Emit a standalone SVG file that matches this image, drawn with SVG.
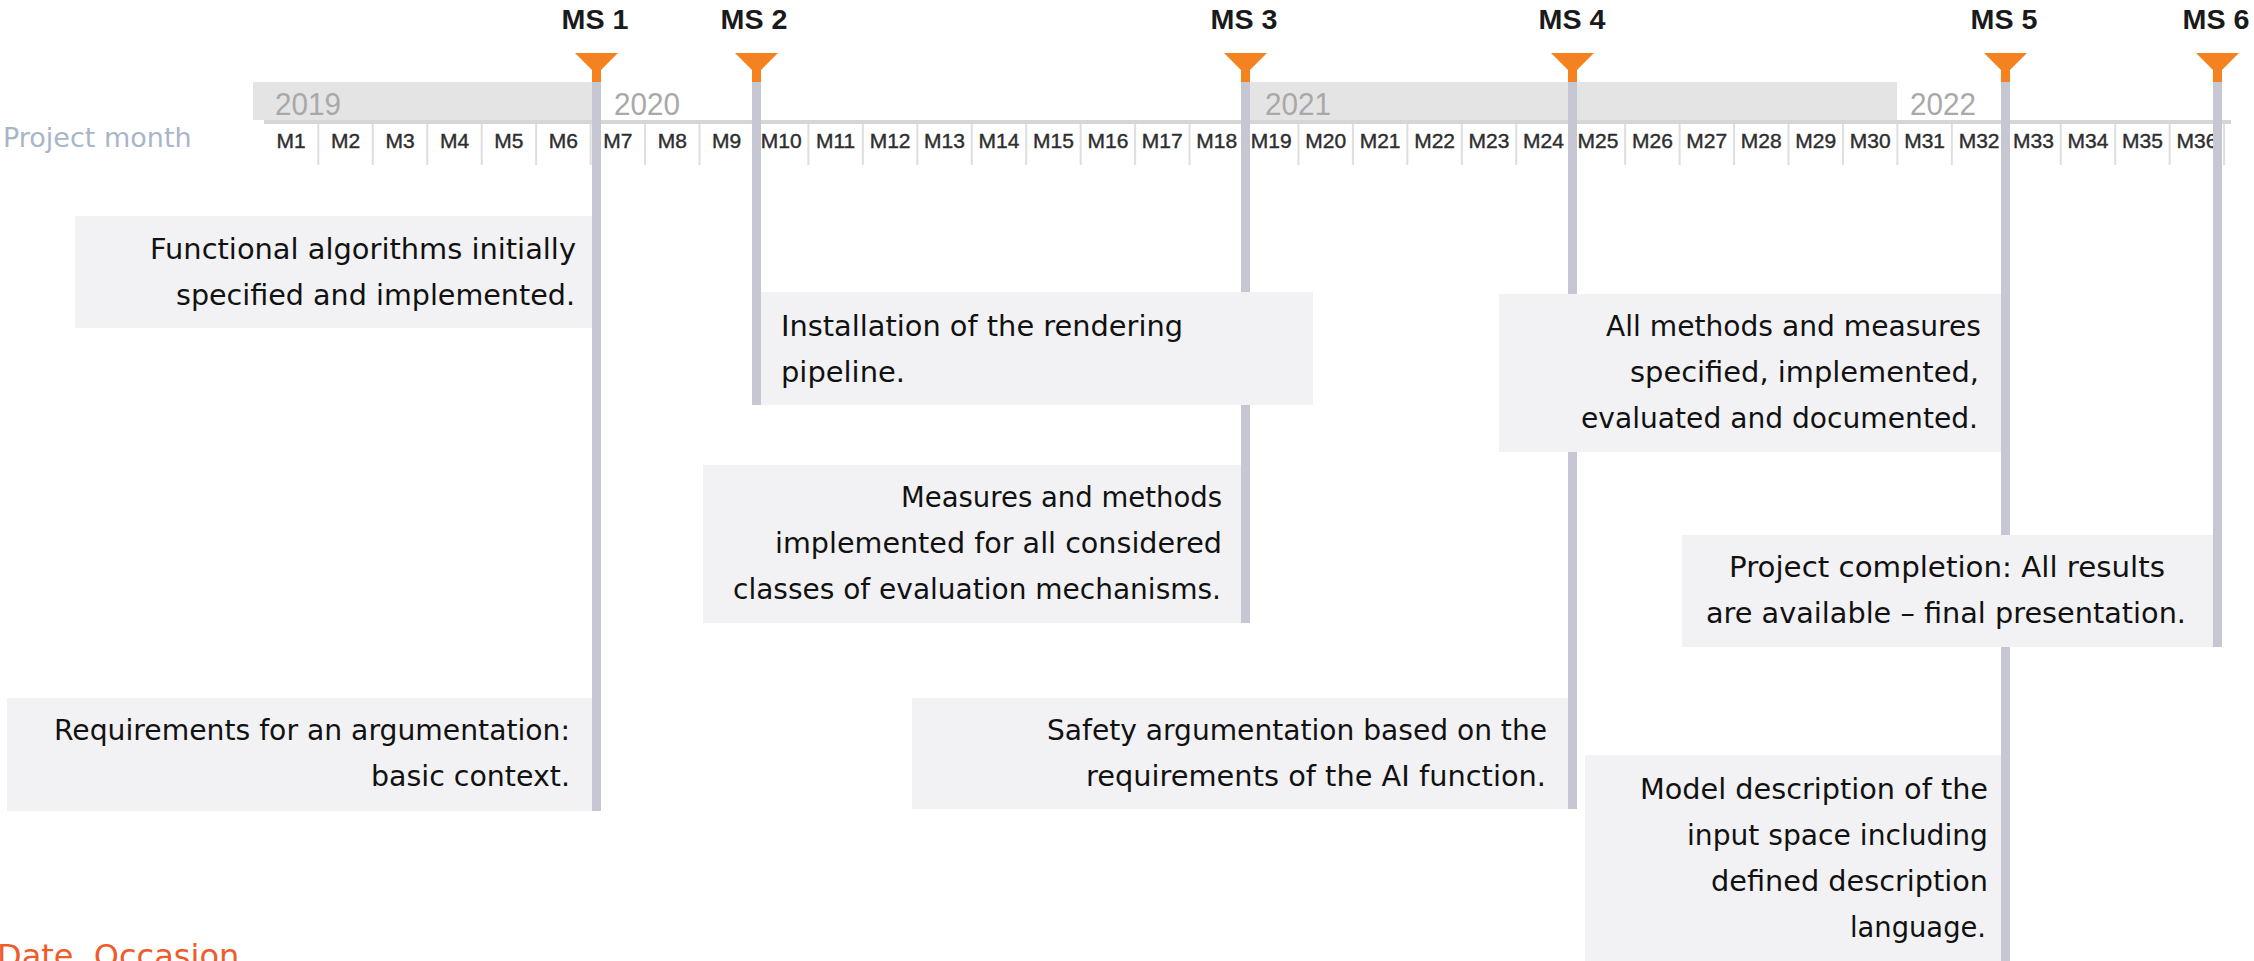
<svg xmlns="http://www.w3.org/2000/svg" width="2254" height="961" viewBox="0 0 2254 961">
  <style>
    .ms-label { font-family: "Liberation Sans", Arial, sans-serif; font-weight: bold; font-size: 27px; fill: #1a1a1a; text-anchor: middle; }
    .year { font-family: "Liberation Sans", Arial, sans-serif; font-size: 32px; fill: #a9a9a9; }
    .band { fill: #e4e4e4; }
    .month { font-family: "Liberation Sans", Arial, sans-serif; font-size: 21px; fill: #2e2e2e; stroke: #2e2e2e; stroke-width: 0.4; text-anchor: middle; }
    .row-top { fill: #d6d6d6; }
    .sep { stroke: #dedede; stroke-width: 2; fill: none; }
    .ms-line { fill: #c7c7d3; }
    .flag { fill: #f58220; }
    .box { fill: #f2f2f4; }
    .t { font-family: "DejaVu Sans", Verdana, sans-serif; font-size: 28.5px; fill: #111111; }
    .end { text-anchor: end; }
    .mid { text-anchor: middle; }
    .axis-title { font-family: "DejaVu Sans", Verdana, sans-serif; font-size: 27px; fill: #a9b5c9; }
    .footer { font-family: "DejaVu Sans", Verdana, sans-serif; font-size: 32px; fill: #ee5c2c; }
  </style>
  <defs>
    <!-- milestone flag: inverted triangle with short stem, centred on x=0 -->
    <path id="flag" d="M-21.5 53H21.5L4.5 70V82H-4.5V70Z"/>
  </defs>

  <!-- time axis: year bands, month cells -->
  <g id="axis">
    <rect class="band" x="253" y="82" width="343" height="38"/>
    <rect class="band" x="1244" y="82" width="653" height="38"/>
    <text class="year" x="275" y="115" textLength="66" lengthAdjust="spacingAndGlyphs">2019</text>
    <text class="year" x="614" y="115" textLength="66" lengthAdjust="spacingAndGlyphs">2020</text>
    <text class="year" x="1265" y="115" textLength="66" lengthAdjust="spacingAndGlyphs">2021</text>
    <text class="year" x="1910" y="115" textLength="66" lengthAdjust="spacingAndGlyphs">2022</text>
    <text class="axis-title" x="3" y="147">Project month</text>
    <rect class="row-top" x="264" y="120" width="1967" height="4"/>
    <path class="sep" d="M318.35 124V165M372.8 124V165M427.25 124V165M481.7 124V165M536.15 124V165M590.6 124V165M645.05 124V165M699.5 124V165M753.95 124V165M808.4 124V165M862.85 124V165M917.3 124V165M971.75 124V165M1026.2 124V165M1080.65 124V165M1135.1 124V165M1189.55 124V165M1244 124V165M1298.45 124V165M1352.9 124V165M1407.35 124V165M1461.8 124V165M1516.25 124V165M1570.7 124V165M1625.15 124V165M1679.6 124V165M1734.05 124V165M1788.5 124V165M1842.95 124V165M1897.4 124V165M1951.85 124V165M2006.3 124V165M2060.75 124V165M2115.2 124V165M2169.65 124V165M2224.1 124V165"/>
    <g id="months">
      <text class="month" x="291.1" y="148">M1</text>
      <text class="month" x="345.6" y="148">M2</text>
      <text class="month" x="400" y="148">M3</text>
      <text class="month" x="454.5" y="148">M4</text>
      <text class="month" x="508.9" y="148">M5</text>
      <text class="month" x="563.4" y="148">M6</text>
      <text class="month" x="617.8" y="148">M7</text>
      <text class="month" x="672.3" y="148">M8</text>
      <text class="month" x="726.7" y="148">M9</text>
      <text class="month" x="781.2" y="148">M10</text>
      <text class="month" x="835.6" y="148">M11</text>
      <text class="month" x="890.1" y="148">M12</text>
      <text class="month" x="944.5" y="148">M13</text>
      <text class="month" x="999" y="148">M14</text>
      <text class="month" x="1053.4" y="148">M15</text>
      <text class="month" x="1107.9" y="148">M16</text>
      <text class="month" x="1162.3" y="148">M17</text>
      <text class="month" x="1216.8" y="148">M18</text>
      <text class="month" x="1271.2" y="148">M19</text>
      <text class="month" x="1325.7" y="148">M20</text>
      <text class="month" x="1380.1" y="148">M21</text>
      <text class="month" x="1434.6" y="148">M22</text>
      <text class="month" x="1489" y="148">M23</text>
      <text class="month" x="1543.5" y="148">M24</text>
      <text class="month" x="1597.9" y="148">M25</text>
      <text class="month" x="1652.4" y="148">M26</text>
      <text class="month" x="1706.8" y="148">M27</text>
      <text class="month" x="1761.3" y="148">M28</text>
      <text class="month" x="1815.7" y="148">M29</text>
      <text class="month" x="1870.2" y="148">M30</text>
      <text class="month" x="1924.6" y="148">M31</text>
      <text class="month" x="1979.1" y="148">M32</text>
      <text class="month" x="2033.5" y="148">M33</text>
      <text class="month" x="2088" y="148">M34</text>
      <text class="month" x="2142.4" y="148">M35</text>
      <text class="month" x="2196.9" y="148">M36</text>
    </g>
  </g>

  <!-- milestone drop lines -->
  <g id="connectors">
    <rect class="ms-line" x="592" y="82" width="9" height="729"/>
    <rect class="ms-line" x="752" y="82" width="9" height="323"/>
    <rect class="ms-line" x="1241" y="82" width="9" height="541"/>
    <rect class="ms-line" x="1568" y="82" width="9" height="727"/>
    <rect class="ms-line" x="2001" y="82" width="9" height="879"/>
    <rect class="ms-line" x="2213" y="82" width="9" height="565"/>
  </g>

  <!-- milestone flags and labels -->
  <g id="ms1">
    <use href="#flag" class="flag" x="596.5"/>
    <text class="ms-label" x="595" y="29" textLength="67" lengthAdjust="spacingAndGlyphs">MS 1</text>
  </g>
  <g id="ms2">
    <use href="#flag" class="flag" x="756.5"/>
    <text class="ms-label" x="754" y="29" textLength="67" lengthAdjust="spacingAndGlyphs">MS 2</text>
  </g>
  <g id="ms3">
    <use href="#flag" class="flag" x="1245.5"/>
    <text class="ms-label" x="1244" y="29" textLength="67" lengthAdjust="spacingAndGlyphs">MS 3</text>
  </g>
  <g id="ms4">
    <use href="#flag" class="flag" x="1572.5"/>
    <text class="ms-label" x="1572" y="29" textLength="67" lengthAdjust="spacingAndGlyphs">MS 4</text>
  </g>
  <g id="ms5">
    <use href="#flag" class="flag" x="2005.5"/>
    <text class="ms-label" x="2004" y="29" textLength="67" lengthAdjust="spacingAndGlyphs">MS 5</text>
  </g>
  <g id="ms6">
    <use href="#flag" class="flag" x="2217.5"/>
    <text class="ms-label" x="2216" y="29" textLength="67" lengthAdjust="spacingAndGlyphs">MS 6</text>
  </g>

  <!-- deliverable notes -->
  <g id="note-functional-algorithms">
    <rect class="box" x="75" y="216" width="517" height="112"/>
    <text class="t end" x="576" y="259" textLength="426" lengthAdjust="spacingAndGlyphs">Functional algorithms initially</text>
    <text class="t end" x="575" y="305" textLength="399" lengthAdjust="spacingAndGlyphs">specified and implemented.</text>
  </g>
  <g id="note-argumentation-requirements">
    <rect class="box" x="7" y="698" width="585" height="113"/>
    <text class="t end" x="570" y="740" textLength="516" lengthAdjust="spacingAndGlyphs">Requirements for an argumentation:</text>
    <text class="t end" x="570" y="786" textLength="199" lengthAdjust="spacingAndGlyphs">basic context.</text>
  </g>
  <g id="note-rendering-pipeline">
    <rect class="box" x="761" y="292" width="552" height="113"/>
    <text class="t" x="781" y="336" textLength="402" lengthAdjust="spacingAndGlyphs">Installation of the rendering</text>
    <text class="t" x="781" y="382" textLength="124" lengthAdjust="spacingAndGlyphs">pipeline.</text>
  </g>
  <g id="note-measures-methods">
    <rect class="box" x="703" y="465" width="538" height="158"/>
    <text class="t end" x="1222" y="507" textLength="321" lengthAdjust="spacingAndGlyphs">Measures and methods</text>
    <text class="t end" x="1222" y="553" textLength="447" lengthAdjust="spacingAndGlyphs">implemented for all considered</text>
    <text class="t end" x="1221" y="599" textLength="488" lengthAdjust="spacingAndGlyphs">classes of evaluation mechanisms.</text>
  </g>
  <g id="note-safety-argumentation">
    <rect class="box" x="912" y="698" width="656" height="111"/>
    <text class="t end" x="1547" y="740" textLength="500" lengthAdjust="spacingAndGlyphs">Safety argumentation based on the</text>
    <text class="t end" x="1546" y="786" textLength="460" lengthAdjust="spacingAndGlyphs">requirements of the AI function.</text>
  </g>
  <g id="note-all-methods">
    <rect class="box" x="1499" y="294" width="502" height="158"/>
    <text class="t end" x="1981" y="336" textLength="375" lengthAdjust="spacingAndGlyphs">All methods and measures</text>
    <text class="t end" x="1979" y="382" textLength="349" lengthAdjust="spacingAndGlyphs">specified, implemented,</text>
    <text class="t end" x="1978" y="428" textLength="397" lengthAdjust="spacingAndGlyphs">evaluated and documented.</text>
  </g>
  <g id="note-project-completion">
    <rect class="box" x="1682" y="535" width="531" height="112"/>
    <text class="t mid" x="1947" y="577" textLength="436" lengthAdjust="spacingAndGlyphs">Project completion: All results</text>
    <text class="t mid" x="1946" y="623" textLength="480" lengthAdjust="spacingAndGlyphs">are available – final presentation.</text>
  </g>
  <g id="note-model-description">
    <rect class="box" x="1585" y="755" width="416" height="206"/>
    <text class="t end" x="1988" y="799" textLength="348" lengthAdjust="spacingAndGlyphs">Model description of the</text>
    <text class="t end" x="1988" y="845" textLength="301" lengthAdjust="spacingAndGlyphs">input space including</text>
    <text class="t end" x="1988" y="891" textLength="277" lengthAdjust="spacingAndGlyphs">defined description</text>
    <text class="t end" x="1986" y="937" textLength="136" lengthAdjust="spacingAndGlyphs">language.</text>
  </g>

  <!-- footer placeholder runs off the bottom-left corner of the page -->
  <text class="footer" x="-3" y="967">Date, Occasion</text>
</svg>
